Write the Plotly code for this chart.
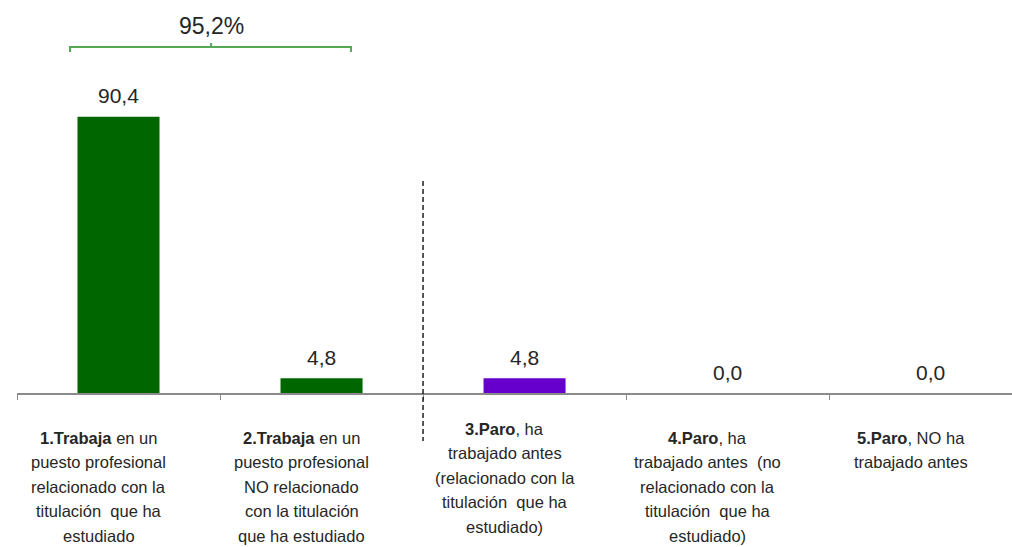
import plotly.graph_objects as go

# Situación laboral de los titulados (%)
categorias = ["1", "2", "3", "4", "5"]
valores = [90.4, 4.8, 4.8, 0.0, 0.0]
colores = ["#006600", "#006600", "#6600cc", "#6600cc", "#6600cc"]

# Etiquetas del eje, una lista de líneas por categoría
etiquetas = [
    ["<b>1.Trabaja</b> en un", "puesto profesional", "relacionado con la",
     "titulación  que ha", "estudiado"],
    ["<b>2.Trabaja</b> en un", "puesto profesional", "NO relacionado",
     "con la titulación", "que ha estudiado"],
    ["<b>3.Paro</b>, ha", "trabajado antes", "(relacionado con la",
     "titulación  que ha", "estudiado)"],
    ["<b>4.Paro</b>, ha", "trabajado antes  (no", "relacionado con la",
     "titulación  que ha", "estudiado)"],
    ["<b>5.Paro</b>, NO ha", "trabajado antes"],
]

FUENTE = "Liberation Sans, Arial, sans-serif"
TXT = "#262626"

W, H = 1012, 547
M_L, M_R, M_T, M_B = 17, 0, 20, 154
plot_h = H - M_T - M_B
y_max = 122.1


def fmt(v):
    return f"{v:.1f}".replace(".", ",")


def py(px):
    """Posición vertical en coordenadas de papel a partir de un píxel."""
    return (H - M_B - px) / plot_h


fig = go.Figure()
fig.add_trace(go.Bar(
    x=list(range(len(categorias))),
    y=valores,
    marker=dict(color=colores, line=dict(width=0)),
    width=0.404,
    hoverinfo="skip",
))

anotaciones = []
# Valores encima de cada barra
for i, v in enumerate(valores):
    anotaciones.append(dict(
        x=i, y=v, xref="x", yref="y", text=fmt(v), showarrow=False,
        yanchor="middle", yshift=21,
        font=dict(family=FUENTE, size=21, color=TXT),
    ))

# Etiquetas de categoría bajo el eje
inicio = [438, 438, 429, 438, 438]
paso = 24.4
for i, lineas in enumerate(etiquetas):
    for j, linea in enumerate(lineas):
        centro = inicio[i] + j * paso
        anotaciones.append(dict(
            x=i, y=0, xref="x", yref="y", text=linea, showarrow=False,
            yanchor="middle", yshift=-(centro - (H - M_B)), xshift=-20,
            font=dict(family=FUENTE, size=16.5, color=TXT),
        ))

# Total de ocupados sobre la llave
total = valores[0] + valores[1]
anotaciones.append(dict(
    x=0.46, y=py(26), xref="x", yref="paper", text=fmt(total) + "%",
    showarrow=False, yanchor="middle",
    font=dict(family=FUENTE, size=23, color=TXT),
))

verde_llave = "#55a855"
x_izq, x_der, x_mid = -0.239, 1.145, 0.456
formas = [
    # llave que agrupa las dos primeras categorías
    dict(type="path", xref="x", yref="paper",
         path=(f"M {x_izq},{py(52)} L {x_izq},{py(47)} L {x_der},{py(47)} "
               f"L {x_der},{py(52)}"),
         line=dict(color=verde_llave, width=2)),
    dict(type="line", xref="x", yref="paper",
         x0=x_mid, x1=x_mid, y0=py(47), y1=py(43),
         line=dict(color=verde_llave, width=2)),
    # separación entre ocupados y parados
    dict(type="line", xref="x", yref="paper",
         x0=1.5, x1=1.5, y0=py(181), y1=py(441),
         line=dict(color="black", width=1.3, dash="5px,3px")),
]

fig.update_layout(
    width=W, height=H,
    margin=dict(l=M_L, r=M_R, t=M_T, b=M_B),
    paper_bgcolor="white", plot_bgcolor="white",
    showlegend=False,
    annotations=anotaciones,
    shapes=formas,
    xaxis=dict(
        range=[-0.5, 4.401],
        tickmode="array", tickvals=[-0.5, 0.5, 1.5, 2.5, 3.5],
        showticklabels=False, ticks="outside", ticklen=5,
        tickcolor="#8a8a8a", tickwidth=1.3,
        showline=True, linecolor="#8a8a8a", linewidth=1.5,
        showgrid=False, zeroline=False, fixedrange=True,
    ),
    yaxis=dict(
        range=[0, y_max], visible=False, showgrid=False, zeroline=False,
        fixedrange=True,
    ),
)

fig.write_html("out.html")
